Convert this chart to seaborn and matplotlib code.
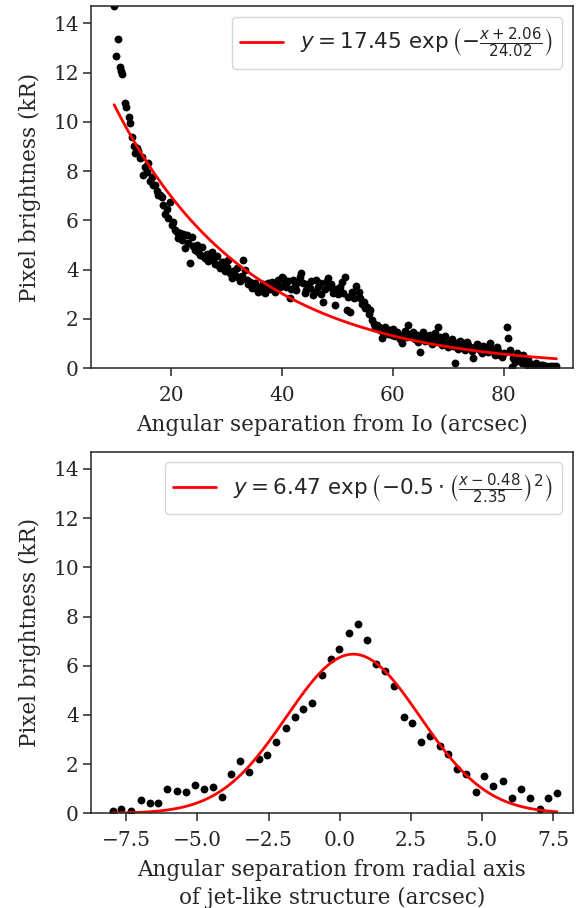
import numpy as np
import matplotlib
matplotlib.use("Agg")
import matplotlib.pyplot as plt
import seaborn as sns

# top panel: brightness along the jet vs distance from Io
top_x = [9.7, 10.1, 10.4, 10.7, 10.9, 11.1, 11.6, 11.9, 12.3, 12.6, 13.0, 13.2, 13.5, 13.8, 14.1,
         14.4, 14.7, 15.0, 15.3, 15.6, 15.9, 16.2, 16.5, 16.8, 17.1, 17.4, 17.7, 18.0, 18.3, 18.6,
         18.9, 19.2, 19.5, 19.8, 20.1, 20.4, 20.7, 21.0, 21.3, 21.6, 21.9, 22.2, 22.5, 22.8, 23.1,
         23.4, 23.7, 24.0, 24.3, 24.6, 24.9, 25.2, 25.5, 25.8, 26.1, 26.4, 26.7, 27.0, 27.3, 27.6,
         27.9, 28.2, 28.5, 28.8, 29.1, 29.4, 29.7, 30.0, 30.3, 30.6, 30.9, 31.2, 31.5, 31.8, 32.1,
         32.4, 32.7, 33.0, 33.3, 33.6, 33.9, 34.2, 34.5, 34.8, 35.1, 35.4, 35.7, 36.0, 36.3, 36.6,
         36.9, 37.2, 37.5, 37.8, 38.1, 38.4, 38.7, 39.0, 39.3, 39.6, 39.9, 40.2, 40.5, 40.8, 41.1,
         41.4, 41.7, 42.0, 42.3, 42.6, 42.9, 43.2, 43.5, 43.8, 44.1, 44.4, 44.7, 45.0, 45.3, 45.6,
         45.9, 46.2, 46.5, 46.8, 47.1, 47.4, 47.7, 48.0, 48.3, 48.6, 48.9, 49.2, 49.5, 49.8, 50.1,
         50.4, 50.8, 51.0, 51.3, 51.7, 51.9, 52.3, 52.6, 53.0, 53.4, 53.8, 54.1, 54.4, 54.7, 55.0,
         55.3, 55.6, 55.9, 56.2, 56.5, 56.8, 57.1, 57.4, 57.7, 58.0, 58.3, 58.6, 58.9, 59.2, 59.5,
         59.8, 60.1, 60.4, 60.7, 61.0, 61.3, 61.6, 61.9, 62.2, 62.5, 62.8, 63.1, 63.4, 63.7, 64.0,
         64.3, 64.6, 64.9, 65.2, 65.5, 65.8, 66.1, 66.4, 66.7, 67.0, 67.3, 67.6, 67.9, 68.2, 68.5,
         68.8, 69.1, 69.4, 69.7, 70.0, 70.3, 70.6, 70.9, 71.2, 71.5, 71.8, 72.1, 72.4, 72.7, 73.0,
         73.3, 73.6, 73.9, 74.2, 74.5, 74.8, 75.1, 75.4, 75.7, 76.0, 76.3, 76.6, 76.9, 77.2, 77.5,
         77.8, 78.1, 78.4, 78.7, 79.0, 79.3, 79.6, 80.0, 80.5, 80.8, 81.1, 81.4, 81.7, 82.0, 82.3,
         82.6, 82.9, 83.2, 83.5, 83.8, 84.1, 84.4, 84.7, 85.0, 85.3, 85.6, 85.9, 86.2, 86.5, 86.8,
         87.1, 87.4, 87.7, 88.0, 88.3, 88.6, 88.9, 89.2, 89.5]
top_y = [14.70, 12.67, 13.36, 12.24, 12.05, 11.94, 10.75, 10.62, 10.21, 9.94, 9.40, 9.00, 8.73, 8.93, 8.80,
         8.55, 8.59, 7.84, 8.18, 7.95, 8.32, 7.60, 7.78, 7.44, 7.44, 7.20, 7.05, 7.03, 6.96, 6.63,
         6.28, 6.45, 6.10, 6.76, 5.82, 5.95, 5.61, 5.55, 5.30, 5.48, 5.20, 5.45, 4.87, 5.41, 5.10,
         4.26, 5.34, 4.95, 4.80, 5.00, 4.70, 4.60, 4.93, 4.55, 4.46, 4.65, 4.35, 4.50, 4.73, 4.40,
         4.25, 4.55, 4.19, 4.05, 4.30, 4.33, 3.95, 4.10, 4.40, 3.85, 3.65, 3.95, 3.80, 4.06, 3.70,
         3.55, 3.75, 4.40, 3.99, 3.60, 3.40, 3.51, 3.25, 3.31, 3.45, 3.20, 3.11, 3.30, 3.15, 3.40,
         3.04, 3.25, 3.45, 3.20, 3.50, 3.31, 3.10, 3.40, 3.58, 3.30, 3.70, 3.65, 3.45, 3.31, 3.55,
         2.84, 3.20, 3.60, 3.35, 3.18, 3.50, 3.70, 3.86, 3.45, 3.05, 3.18, 3.40, 3.25, 3.55, 2.97,
         3.10, 3.60, 3.31, 3.45, 3.00, 2.70, 3.20, 3.50, 3.65, 3.31, 3.40, 3.04, 2.57, 3.20, 3.00,
         3.30, 3.51, 3.04, 3.70, 2.37, 2.91, 2.30, 3.10, 2.85, 3.35, 3.11, 2.85, 2.60, 2.70, 2.45,
         2.50, 2.20, 2.37, 1.96, 1.80, 1.65, 1.75, 1.69, 1.55, 1.22, 1.45, 1.69, 1.50, 1.40, 1.55,
         1.35, 1.60, 1.30, 1.49, 1.40, 1.20, 1.01, 1.35, 1.50, 1.25, 1.76, 1.40, 1.30, 1.49, 1.20,
         1.35, 1.05, 0.67, 1.25, 1.49, 1.10, 1.30, 1.15, 1.35, 1.00, 1.20, 1.45, 1.10, 1.69, 1.25,
         0.95, 1.15, 1.30, 1.00, 0.85, 1.08, 1.20, 0.90, 0.20, 1.01, 0.80, 1.10, 0.85, 1.01, 0.75,
         1.05, 0.95, 0.88, 0.70, 0.41, 0.85, 1.00, 0.95, 0.75, 0.60, 0.90, 0.74, 0.85, 0.65, 1.01,
         0.80, 0.70, 0.55, 0.88, 0.70, 0.54, 0.45, 0.60, 1.69, 1.22, 0.74, 0.07, 0.40, 0.25, 0.61,
         0.35, 0.45, 0.20, 0.54, 0.30, 0.15, 0.34, 0.10, 0.18, 0.12, 0.08, 0.20, 0.10, 0.05, 0.12,
         0.14, 0.06, 0.10, 0.04, 0.09, 0.05, 0.08, 0.04, 0.09]

# bottom panel: cut across the jet-like structure
bot_x = [-7.98, -7.68, -7.33, -7.00, -6.68, -6.39, -6.06, -5.72, -5.39, -5.10, -4.78, -4.45, -4.12,
         -3.83, -3.50, -3.17, -2.83, -2.56, -2.23, -1.90, -1.57, -1.28, -0.96, -0.63, -0.31, -0.01,
         0.32, 0.65, 0.98, 1.29, 1.60, 1.92, 2.25, 2.55, 2.86, 3.19, 3.52, 3.82, 4.13, 4.46, 4.80,
         5.07, 5.40, 5.73, 6.06, 6.37, 6.68, 7.03, 7.34, 7.64]
bot_y = [0.11, 0.16, 0.11, 0.54, 0.41, 0.41, 0.99, 0.92, 0.85, 1.14, 0.97, 1.05, 0.68,
         1.58, 2.14, 1.69, 2.19, 2.39, 2.88, 3.46, 3.92, 4.22, 4.50, 5.64, 6.28, 6.66,
         7.34, 7.68, 7.03, 6.09, 5.78, 5.19, 3.92, 3.68, 2.89, 3.16, 2.73, 2.41, 1.82, 1.59, 0.86,
         1.51, 1.12, 1.31, 0.61, 0.99, 0.61, 0.19, 0.61, 0.81]

# fit parameters shown in the legends
exp_amp, exp_shift, exp_scale = 17.45, 2.06, 24.02
gau_amp, gau_mu, gau_sigma = 6.47, 0.48, 2.35

sns.set_style("ticks")
plt.rcParams["font.family"] = "DejaVu Serif"
plt.rcParams["mathtext.fontset"] = "dejavusans"
plt.rcParams["xtick.major.size"] = 5.5
plt.rcParams["ytick.major.size"] = 5.5
plt.rcParams["xtick.major.width"] = 1.1
plt.rcParams["ytick.major.width"] = 1.1
plt.rcParams["xtick.major.pad"] = 7.0
plt.rcParams["ytick.major.pad"] = 3.5
plt.rcParams["axes.linewidth"] = 1.1

label_fs = 15.5
tick_fs = 14.5

fig = plt.figure(figsize=(5.82, 9.08), dpi=100)
ax1 = fig.add_axes([0.157, 0.5944, 0.8267, 0.399])
ax2 = fig.add_axes([0.157, 0.1043, 0.8267, 0.3982])

# Top: exponential decay
xf = np.linspace(min(top_x), max(top_x), 300)
yf = exp_amp * np.exp(-(xf + exp_shift) / exp_scale)
sns.scatterplot(x=top_x, y=top_y, color="black", s=32, linewidth=0, ax=ax1)
ax1.plot(xf, yf, color="red", lw=2.0,
         label=r"$y = 17.45\ \exp\left(-\frac{x + 2.06}{24.02}\right)$")
ax1.set_xlim(5.6, 92.4)
ax1.set_ylim(0, 14.7)
ax1.set_xlabel("Angular separation from Io (arcsec)", fontsize=label_fs, labelpad=7)
ax1.set_ylabel("Pixel brightness (kR)", fontsize=label_fs, labelpad=9)
ax1.legend(loc="upper right", fontsize=label_fs)

# Bottom: gaussian profile
xg = np.linspace(min(bot_x), max(bot_x), 300)
yg = gau_amp * np.exp(-0.5 * ((xg - gau_mu) / gau_sigma) ** 2)
sns.scatterplot(x=bot_x, y=bot_y, color="black", s=32, linewidth=0, ax=ax2)
ax2.plot(xg, yg, color="red", lw=2.0,
         label=r"$y = 6.47\ \exp\left(-0.5 \cdot \left(\frac{x - 0.48}{2.35}\right)^2\right)$")
ax2.set_xlim(-8.73, 8.19)
ax2.set_ylim(0, 14.7)
ax2.set_xlabel("Angular separation from radial axis\nof jet-like structure (arcsec)",
               fontsize=label_fs, labelpad=7, linespacing=1.3)
ax2.set_ylabel("Pixel brightness (kR)", fontsize=label_fs, labelpad=9)
ax2.legend(loc="upper right", fontsize=label_fs)

for ax in (ax1, ax2):
    ax.tick_params(labelsize=tick_fs)
    for sp in ax.spines.values():
        sp.set_visible(True)

fig.savefig("out.png", dpi=100)
